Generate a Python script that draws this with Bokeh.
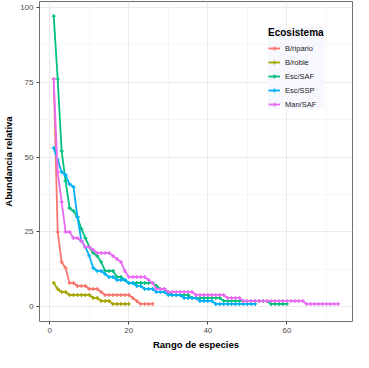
from bokeh.plotting import figure
from bokeh.models import Range1d, FixedTicker, Legend, LegendItem
from bokeh.embed import file_html
from bokeh.resources import INLINE

# ---- data (relative abundance by species rank) ----
series_names = ["B/ripario", "B/roble", "Esc/SAF", "Esc/SSP", "Man/SAF"]
series_colors = ["#F8766D", "#A3A500", "#00BF7D", "#00B0F6", "#E76BF3"]

b_ripario = [76, 25, 15, 13, 8, 8, 7, 7, 7, 6, 6, 6, 5, 4, 4, 4, 4, 4, 4, 4,
             3, 2, 1, 1, 1, 1]
b_roble = [8, 6, 5, 5, 4, 4, 4, 4, 4, 4, 3, 3, 2, 2, 2, 1, 1, 1, 1, 1]
esc_saf = [97, 76, 52, 42, 33, 32, 30, 26, 23, 20, 18, 17, 15, 12, 12, 12, 10, 10, 9, 8,
           8, 8, 8, 8, 8, 8, 7, 6, 6, 5, 4, 4, 4, 4, 4, 3, 3, 3, 3, 3,
           3, 3, 3, 2, 2, 2, 2, 2, 2, 2, 2, 2, 2, 2, 2, 1, 1, 1, 1, 1]
esc_ssp = [53, 49, 45, 44, 41, 40, 30, 22, 20, 17, 13, 12, 12, 11, 10, 10, 9, 9, 9, 8,
           8, 7, 7, 6, 6, 6, 5, 5, 5, 4, 4, 4, 4, 3, 3, 3, 3, 2, 2, 2,
           2, 1, 1, 1, 1, 1, 1, 1, 1, 1, 1, 1]
man_saf = [76, 45, 35, 25, 25, 23, 23, 22, 20, 20, 19, 18, 18, 18, 18, 17, 16, 15, 12, 10,
           10, 10, 10, 10, 9, 8, 6, 6, 6, 5, 5, 5, 5, 5, 5, 5, 4, 4, 4, 4,
           4, 4, 4, 4, 3, 3, 3, 3, 2, 2, 2, 2, 2, 2, 2, 2, 2, 2, 2, 2,
           2, 2, 2, 2, 1, 1, 1, 1, 1, 1, 1, 1, 1]
all_series = [b_ripario, b_roble, esc_saf, esc_ssp, man_saf]

x_ticks = [0, 20, 40, 60]
y_ticks = [0, 25, 50, 75, 100]

FONT = "Liberation Sans"

p = figure(width=353, height=352, output_backend="svg", toolbar_location=None,
           x_range=Range1d(-2.6, 76.6), y_range=Range1d(-4.85, 101.85),
           min_border_left=0, min_border_right=1, min_border_top=1, min_border_bottom=0)
p.background_fill_color = "white"
p.border_fill_color = "white"
p.outline_line_color = "#6E6E6E"
p.outline_line_width = 1

p.xaxis.ticker = FixedTicker(ticks=x_ticks, minor_ticks=[10, 30, 50, 70])
p.yaxis.ticker = FixedTicker(ticks=y_ticks, minor_ticks=[12.5, 37.5, 62.5, 87.5])
p.xaxis.axis_label = "Rango de especies"
p.yaxis.axis_label = "Abundancia relativa"

for g in (p.xgrid, p.ygrid):
    g.grid_line_color = "#EBEBEB"
    g.grid_line_width = 1
    g.minor_grid_line_color = "#F2F2F2"
    g.minor_grid_line_width = 0.7

for ax in (p.xaxis, p.yaxis):
    ax.axis_line_color = None
    ax.major_tick_line_color = "#444444"
    ax.major_tick_out = 3
    ax.major_tick_in = 0
    ax.minor_tick_line_color = None
    ax.major_label_text_font = FONT
    ax.major_label_text_font_size = "8px"
    ax.major_label_text_color = "#4D4D4D"
    ax.major_label_standoff = 2
    ax.axis_label_text_font = FONT
    ax.axis_label_text_font_size = "9.5px"
    ax.axis_label_text_font_style = "bold"
    ax.axis_label_text_color = "black"
    ax.axis_label_standoff = 3

items = []
for name, color, vals in zip(series_names, series_colors, all_series):
    xs = list(range(1, len(vals) + 1))
    r1 = p.line(xs, vals, line_color=color, line_width=1.8)
    r2 = p.scatter(xs, vals, marker="cross", size=4, line_color=color, line_width=1.3)
    items.append(LegendItem(label=name, renderers=[r1, r2]))

legend = Legend(items=items, location=(229, 212), title="Ecosistema")
legend.title_text_font = FONT
legend.title_text_font_style = "bold"
legend.title_text_font_size = "10px"
legend.title_text_color = "black"
legend.title_standoff = 5
legend.label_text_font = FONT
legend.label_text_font_size = "7.5px"
legend.label_text_color = "#222222"
legend.label_height = 10
legend.glyph_height = 10
legend.glyph_width = 12
legend.label_standoff = 5
legend.spacing = 4
legend.padding = 5
legend.margin = 0
legend.background_fill_color = "#F7F8FE"
legend.background_fill_alpha = 1
legend.border_line_color = None
p.add_layout(legend)

open("out.html", "w").write(file_html(p, INLINE))
